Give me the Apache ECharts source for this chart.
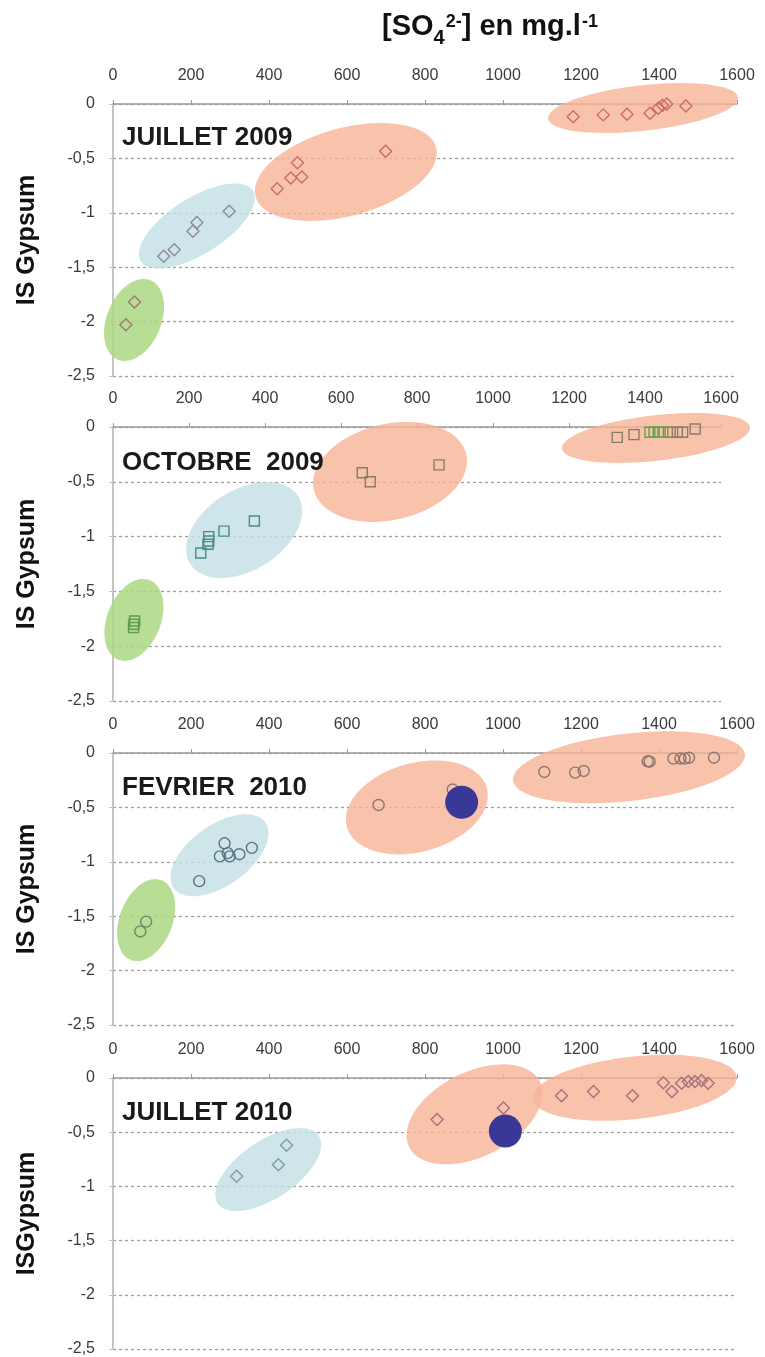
<!DOCTYPE html>
<html><head><meta charset="utf-8">
<script src="https://cdn.jsdelivr.net/npm/echarts/dist/echarts.min.js"></script>
<style>html,body{margin:0;padding:0;background:#fff}#c{width:765px;height:1357px}</style>
</head><body><div id="c"></div><script>
// ---------- DATA ----------
const xMin = 0, xMax = 1600, xStep = 200;
const yMin = -2.5, yMax = 0, yStep = 0.5;
const panelTitles = ['JUILLET 2009', 'OCTOBRE  2009', 'FEVRIER  2010', 'JUILLET 2010'];
const yNames = ['IS Gypsum', 'IS Gypsum', 'IS Gypsum', 'ISGypsum'];

// JUILLET 2009 (diamonds)
const jul09Green = [[33,-2.03],[55,-1.82]];
const jul09Blue  = [[130,-1.40],[157,-1.34],[205,-1.17],[215,-1.09],[298,-0.985]];
const jul09Mid   = [[421,-0.78],[456,-0.68],[473,-0.54],[484,-0.67],[699,-0.435]];
const jul09Right = [[1180,-0.117],[1257,-0.10],[1318,-0.094],[1377,-0.085],[1398,-0.04],[1409,-0.012],[1420,0],[1469,-0.018]];

// OCTOBRE 2009 (squares)
const oct09Green = [[57,-1.77],[55,-1.80],[54,-1.83]];
const oct09Blue  = [[231,-1.15],[250,-1.07],[252,-1.04],[252,-1.00],[292,-0.95],[372,-0.858]];
const oct09Mid   = [[656,-0.417],[677,-0.50],[858,-0.346]];
const oct09Right = [[1327,-0.095],[1371,-0.07],[1466,-0.048],[1485,-0.048],[1499,-0.048],[1532,-0.018]];
const oct09RightGreen = [[1413,-0.048],[1424,-0.048],[1435,-0.048],[1447,-0.048]];

// FEVRIER 2010 (circles)
const feb10Green = [[70,-1.64],[85,-1.55]];
const feb10Blue  = [[221,-1.178],[274,-0.95],[286,-0.83],[294,-0.92],[299,-0.95],[324,-0.93],[356,-0.872]];
const feb10Mid   = [[681,-0.478],[871,-0.336]];
const feb10Right = [[1106,-0.174],[1185,-0.18],[1207,-0.165],[1371,-0.076],[1376,-0.08],[1437,-0.052],[1455,-0.05],[1466,-0.052],[1477,-0.043],[1541,-0.043]];
const feb10Highlight = [[894,-0.453]];

// JUILLET 2010 (diamonds)
const jul10Blue  = [[317,-0.906],[424,-0.80],[445,-0.62]];
const jul10Mid   = [[831,-0.383],[1001,-0.277]];
const jul10Right = [[1150,-0.164],[1232,-0.125],[1332,-0.164],[1411,-0.043],[1433,-0.125],[1458,-0.048],[1475,-0.033],[1492,-0.033],[1509,-0.024],[1526,-0.048]];
const jul10Highlight = [[1006,-0.49]];

// group ellipse centres (data units)
const jul09Centres = [[54,-1.985],[215,-1.121],[597,-0.625],[1359,-0.037]];
const oct09Centres = [[55,-1.76],[345,-0.94],[729,-0.41],[1429,-0.10]];
const feb10Centres = [[85,-1.536],[273,-0.94],[779,-0.50],[1323,-0.131]];
const jul10Centres = [[398,-0.845],[927,-0.335],[1338,-0.09]];

// ---------- LAYOUT / STYLE ----------
const FONT = "'Liberation Sans', Arial, sans-serif";
const grids = [
  {left:113, top:104, width:624, height:272},
  {left:113, top:427, width:608, height:274},
  {left:113, top:753, width:624, height:272},
  {left:113, top:1078, width:624, height:274}
];
const FILL = {g:'rgba(172,215,130,0.85)', b:'rgba(195,223,229,0.82)', o:'rgba(248,180,150,0.8)'};
// ellipse shapes in px: w/h half extents, r = y offset of rightmost point
const shapes = [
  [{k:'g',w:30,h:41,r:-13},{k:'b',w:58,h:42.5,r:-28},{k:'o',w:91,h:49,r:-19},{k:'o',w:95,h:25,r:-10}],
  [{k:'g',w:29.5,h:41,r:-13},{k:'b',w:58,h:48,r:-19},{k:'o',w:77,h:50,r:-11},{k:'o',w:94,h:25,r:-10}],
  [{k:'g',w:29,h:41,r:-13},{k:'b',w:49,h:41,r:-22},{k:'o',w:71,h:47,r:-12},{k:'o',w:116,h:36,r:-12}],
  [{k:'b',w:53,h:41.5,r:-25},{k:'o',w:68,h:50,r:-21},{k:'o',w:102,h:33,r:-10}]
];
const centres = [jul09Centres, oct09Centres, feb10Centres, jul10Centres];

function ellipseSeries(gi){
  const sh = shapes[gi];
  return {
    type:'custom', xAxisIndex:gi, yAxisIndex:gi, z:1, clip:false, silent:true,
    data: centres[gi],
    renderItem: function(params, api){
      const e = sh[params.dataIndex];
      const c = api.coord([api.value(0), api.value(1)]);
      const d = Math.acos(e.r / e.h);
      const pts = [];
      for (let i = 0; i < 90; i++){
        const t = i / 90 * 2 * Math.PI;
        pts.push([c[0] + e.w * Math.cos(t), c[1] + e.h * Math.cos(t + d)]);
      }
      return {type:'polygon', shape:{points:pts}, style:{fill:FILL[e.k], stroke:null}};
    }
  };
}
function sc(gi, data, symbol, size, color){
  return {type:'scatter', xAxisIndex:gi, yAxisIndex:gi, data:data, symbol:symbol, symbolSize:size,
    z:3, silent:true,
    itemStyle:{color:'rgba(0,0,0,0)', borderColor:color, borderWidth:1.4, opacity:1}};
}
function dot(gi, data){
  return {type:'scatter', xAxisIndex:gi, yAxisIndex:gi, data:data, symbol:'circle', symbolSize:33,
    z:4, silent:true, itemStyle:{color:'#3a3896', opacity:1}};
}

const xAxes = grids.map((g,i)=>({
  type:'value', gridIndex:i, min:xMin, max:xMax, interval:xStep, position:'top',
  axisLine:{show:true, onZero:false, lineStyle:{color:'#9a9a9a', width:1.5}},
  axisTick:{show:true, length:4, lineStyle:{color:'#9a9a9a'}},
  axisLabel:{fontSize:16, color:'#3a3a3a', margin:20, fontFamily:FONT, formatter: v => String(v)},
  splitLine:{show:false}
}));
const yAxes = grids.map((g,i)=>({
  type:'value', gridIndex:i, min:yMin, max:yMax, interval:yStep,
  name:yNames[i], nameLocation:'middle', nameGap:73,
  nameTextStyle:{fontSize:25, fontWeight:'bold', color:'#111', fontFamily:FONT},
  axisLine:{show:true, lineStyle:{color:'#c4c4c4', width:2}},
  axisTick:{show:true, length:4, lineStyle:{color:'#c4c4c4'}},
  axisLabel:{fontSize:16, color:'#3a3a3a', margin:18, fontFamily:FONT,
    formatter: v => (v === 0 ? '0' : String(v).replace('.', ','))},
  splitLine:{show:true, lineStyle:{type:[3,3], color:'#9e9e9e', width:1.3}}
}));

const titleTops = [125, 450, 775, 1100];
const titles = [{
  text:'[SO{sub|4}{sup|2-}] en mg.l{sup|-1}', left:382, top:5, padding:0,
  textStyle:{fontSize:29, fontWeight:'bold', color:'#111', fontFamily:FONT, lineHeight:44,
    rich:{
      sub:{fontSize:20, fontWeight:'bold', color:'#111', fontFamily:FONT, verticalAlign:'bottom', padding:[0,0,1,0]},
      sup:{fontSize:18, fontWeight:'bold', color:'#111', fontFamily:FONT, verticalAlign:'top', padding:[8,0,0,1]}
    }}
}].concat(panelTitles.map((t,i)=>({
  text:t, left:122, top:titleTops[i], padding:0,
  textStyle:{fontSize:26, fontWeight:'bold', color:'#1a1a1a', fontFamily:FONT}
})));

const C = {
  p1:{g:'#a07a72', b:'#8c88a6', o:'#cc6a6a'},
  p2:{g:'#5f9a52', b:'#4a8c88', o:'#8a7a6a', gr:'#58a848'},
  p3:{g:'#6e8a64', b:'#5a7480', o:'#8a7672'},
  p4:{b:'#7e9ca4', o:'#a4717e'}
};
const series = [
  ellipseSeries(0), ellipseSeries(1), ellipseSeries(2), ellipseSeries(3),
  sc(0, jul09Green, 'diamond', 12, C.p1.g), sc(0, jul09Blue, 'diamond', 12, C.p1.b),
  sc(0, jul09Mid, 'diamond', 12, C.p1.o), sc(0, jul09Right, 'diamond', 12, C.p1.o),
  sc(1, oct09Green, 'rect', 10, C.p2.g), sc(1, oct09Blue, 'rect', 10, C.p2.b),
  sc(1, oct09Mid, 'rect', 10, C.p2.o), sc(1, oct09Right, 'rect', 10, C.p2.o),
  sc(1, oct09RightGreen, 'rect', 10, C.p2.gr),
  sc(2, feb10Green, 'circle', 11, C.p3.g), sc(2, feb10Blue, 'circle', 11, C.p3.b),
  sc(2, feb10Mid, 'circle', 11, C.p3.o), sc(2, feb10Right, 'circle', 11, C.p3.o),
  dot(2, feb10Highlight),
  sc(3, jul10Blue, 'diamond', 12, C.p4.b), sc(3, jul10Mid, 'diamond', 12, C.p4.o),
  sc(3, jul10Right, 'diamond', 12, C.p4.o),
  dot(3, jul10Highlight)
];

const chart = echarts.init(document.getElementById('c'), null, {renderer:'canvas'});
chart.setOption({
  animation:false, backgroundColor:'#fff',
  title:titles, grid:grids, xAxis:xAxes, yAxis:yAxes, series:series
});
</script></body></html>
